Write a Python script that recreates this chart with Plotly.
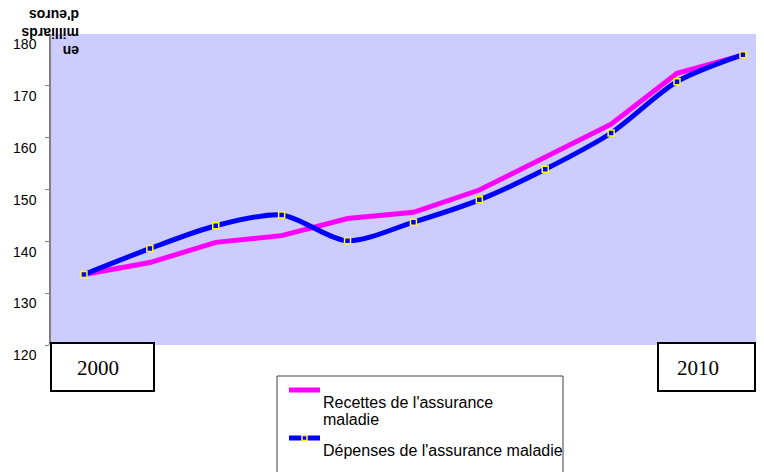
import plotly.graph_objects as go

years = ["2000", "2001", "2002", "2003", "2004", "2005", "2006", "2007", "2008", "2009", "2010"]
recettes = [133.6, 135.9, 139.8, 141.1, 144.4, 145.6, 149.9, 156.3, 162.6, 172.4, 175.9]
depenses = [133.6, 138.6, 143.0, 145.1, 140.1, 143.7, 148.0, 153.9, 160.9, 170.8, 176.0]
y_ticks = [120, 130, 140, 150, 160, 170, 180]
name_rec_lines = ["Recettes de l'assurance", "maladie"]
name_dep_lines = ["Dépenses de l'assurance maladie"]
unit_label = "<b>en<br>milliards<br>d'euros</b>"

# page offset of the plotly div (browser body margin)
OFF = 8
W, H = 764 - OFF, 472 - OFF
# plot area in page pixels: x 51..764, y 34..345
L, R, T, B = 51 - OFF, 0, 34 - OFF, H - (345 - OFF)
PW, PH = W - L - R, H - T - B


def px(x):
    return (x - OFF - L) / PW


def py(y):
    return (H - B - (y - OFF)) / PH


fig = go.Figure()
fig.add_trace(go.Scatter(x=years, y=recettes, mode="lines",
                         line=dict(color="#FF00FF", width=5), showlegend=False))
fig.add_trace(go.Scatter(x=years, y=depenses, mode="lines+markers",
                         line=dict(color="#0000FF", width=5, shape="spline", smoothing=0.8),
                         marker=dict(symbol="square", size=6, color="#0000FF",
                                     line=dict(color="#FFFF00", width=1.5)),
                         showlegend=False))

shapes = []
annotations = []

# year boxes
for (x0, x1, tx, label) in [(51, 154, 98, "2000"), (658, 755, 698, "2010")]:
    shapes.append(dict(type="rect", xref="paper", yref="paper",
                       x0=px(x0), x1=px(x1), y0=py(391), y1=py(343),
                       line=dict(color="black", width=2), fillcolor="white", layer="above"))
    annotations.append(dict(xref="paper", yref="paper", x=px(tx), y=py(368), text=label,
                            showarrow=False, xanchor="center", yanchor="middle",
                            font=dict(family="Liberation Serif", size=21, color="black")))

# legend box
shapes.append(dict(type="rect", xref="paper", yref="paper",
                   x0=px(277), x1=px(563), y0=py(490), y1=py(376),
                   line=dict(color="#404040", width=1), fillcolor="white", layer="above"))
shapes.append(dict(type="line", xref="paper", yref="paper",
                   x0=px(289), x1=px(320), y0=py(390), y1=py(390),
                   line=dict(color="#FF00FF", width=5), layer="above"))
shapes.append(dict(type="line", xref="paper", yref="paper",
                   x0=px(289), x1=px(320), y0=py(438), y1=py(438),
                   line=dict(color="#0000FF", width=5), layer="above"))
shapes.append(dict(type="rect", xref="paper", yref="paper",
                   x0=px(302), x1=px(307), y0=py(440.5), y1=py(435.5),
                   line=dict(color="#FFFF00", width=1.5), fillcolor="#0000FF", layer="above"))
for line_text, yc in zip(name_rec_lines + name_dep_lines, [402.7, 419.4, 450.4]):
    annotations.append(dict(xref="paper", yref="paper", x=px(321), y=py(yc), text=line_text,
                            showarrow=False, xanchor="left", yanchor="middle", align="left",
                            font=dict(family="Liberation Sans", size=16, color="black")))

# upside-down unit label
annotations.append(dict(xref="paper", yref="paper", x=px(50), y=py(33), text=unit_label,
                        showarrow=False, textangle=180, align="left",
                        xanchor="center", yanchor="middle",
                        font=dict(family="Liberation Sans", size=14, color="black")))

fig.update_layout(
    width=W, height=H,
    margin=dict(l=L, r=R, t=T, b=B, pad=0),
    paper_bgcolor="white",
    plot_bgcolor="#CCCCFF",
    shapes=shapes,
    annotations=annotations,
    xaxis=dict(type="category", range=[-0.5, 10.32], showticklabels=False,
               showgrid=False, zeroline=False, showline=False, ticks=""),
    yaxis=dict(range=[120, 180], tickvals=y_ticks, showgrid=False, zeroline=False,
               showline=True, linecolor="#808080", linewidth=1.5,
               ticks="outside", ticklen=4, tickcolor="#808080",
               ticklabelposition="outside bottom", ticklabelstandoff=10,
               tickfont=dict(family="Liberation Sans", size=14, color="black")),
)

fig.write_html("out.html")
